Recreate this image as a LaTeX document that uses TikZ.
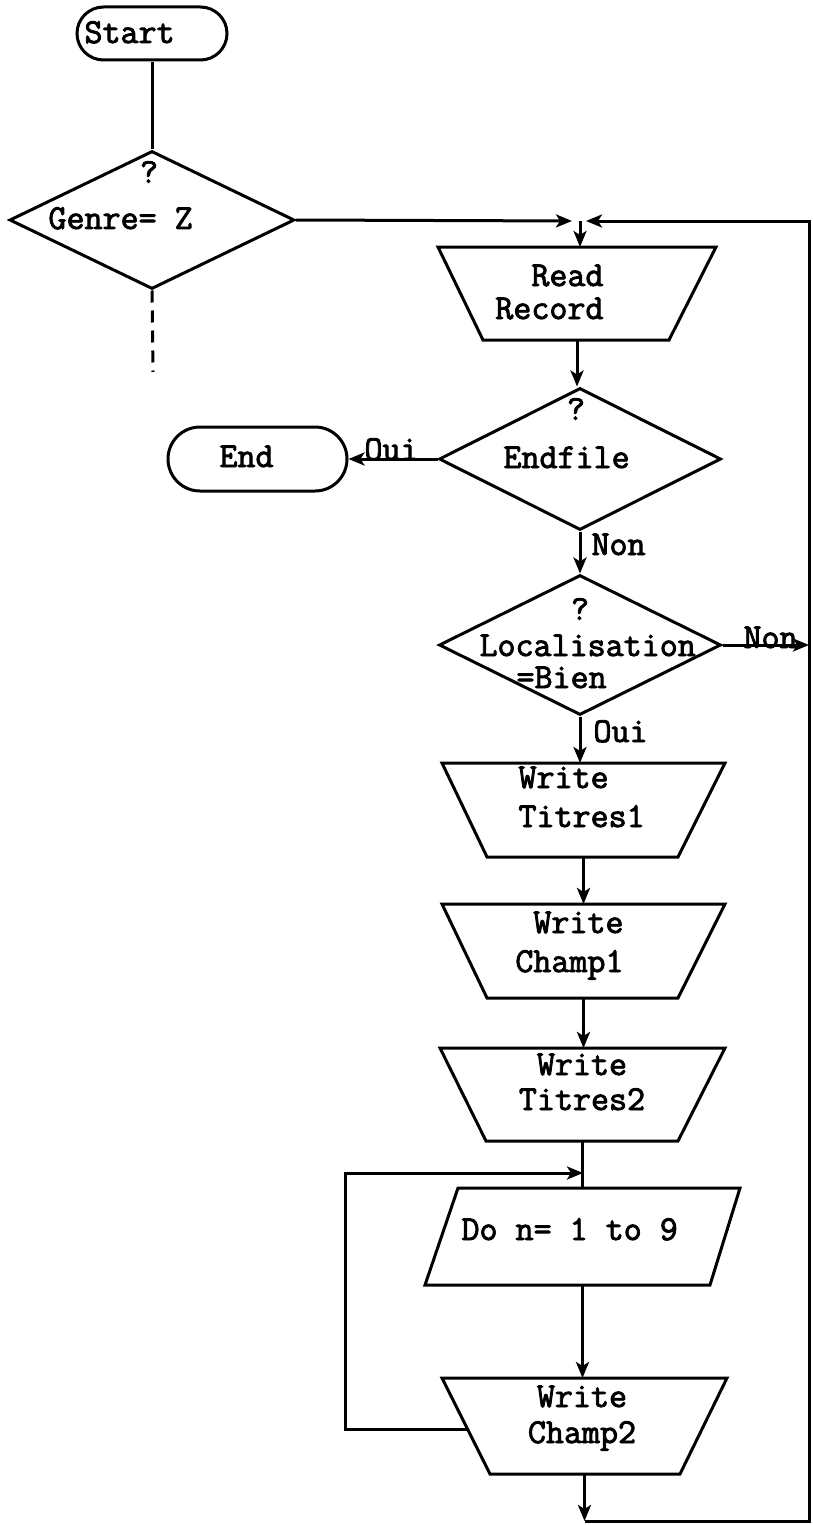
\documentclass[tikz,border=0pt]{standalone}
\usepackage{fontspec}
\newfontfamily\tw[FakeBold=2.5]{Latin Modern Mono}
\usetikzlibrary{shapes.geometric,shapes.misc,arrows.meta,calc}
\newcommand\invtrap[3]{%
  \draw (#1.north west) -- (#1.north east) -- ([xshift=-#3]#1.south east)
        -- ([xshift=#2]#1.south west) -- cycle;}
\begin{document}
\begin{tikzpicture}[x=1pt,y=-1pt,line width=3pt,
  txt/.style={font=\tw\fontsize{35pt}{38pt}\selectfont,inner sep=0pt},
  lbl/.style={txt,anchor=base west},
  lble/.style={txt,anchor=base east},
  lblc/.style={txt,anchor=base},
  arr/.style={-{Stealth[length=16pt,width=13pt,inset=4pt]}},
  term/.style={rounded rectangle,draw,inner sep=0pt},
  dia/.style={diamond,draw,inner sep=0pt},
  frame/.style={rectangle,inner sep=0pt,outer sep=0pt}]
\useasboundingbox (0,0) rectangle (812,1525);

% nodes
\node[term,minimum width=150pt,minimum height=53pt] (start) at (152,33.5) {};
\node[lbl] (tstart) at (83,43) {Start};

\node[dia,minimum width=285pt,minimum height=138pt] (genre) at (152,220) {};
\node[txt] (q1) at (149,172) {?};
\node[lbl] (tgenre) at (47,229) {Genre= Z};
\coordinate (gdash) at (153,372);

\coordinate (jtop) at (580,221);
\coordinate (jl1) at (572,221);
\coordinate (jr1) at (586,221);

\node[frame,minimum width=278pt,minimum height=93pt] (read) at (577,293.5) {};
\invtrap{read}{45pt}{47pt}
\node[lble] (tread1) at (605,286) {Read};
\node[lble] (tread2) at (605,319) {Record};

\node[dia,minimum width=282pt,minimum height=142pt] (endf) at (580,459) {};
\node[txt] (q2) at (576,409) {?};
\node[lbl] (tendf) at (502,468) {Endfile};

\node[term,minimum width=179pt,minimum height=64pt] (endn) at (257.5,459) {};
\node[lbl] (tend) at (218,467) {End};
\node[lbl] (oui1) at (363,460) {Oui};
\node[lbl] (non1) at (590,555) {Non};

\node[dia,minimum width=282pt,minimum height=140pt] (loc) at (580,645) {};
\node[txt] (q3) at (580,609) {?};
\node[lbl] (tloc1) at (478,656) {Localisation};
\node[lbl] (tloc2) at (515,688) {=Bien};
\node[lbl] (non2) at (742,648) {Non};
\node[lbl] (oui2) at (592,742) {Oui};
\coordinate (locr) at (809,645);

\node[frame,minimum width=283pt,minimum height=94pt] (t1) at (583.5,810) {};
\invtrap{t1}{45pt}{47pt}
\node[lbl] (tt1a) at (517,788) {Write};
\node[lbl] (tt1b) at (517,827) {Titres1};

\node[frame,minimum width=283pt,minimum height=94pt] (c1) at (583.5,951) {};
\invtrap{c1}{45pt}{47pt}
\node[lble] (tc1a) at (625,933) {Write};
\node[lble] (tc1b) at (625,972) {Champ1};

\node[frame,minimum width=285pt,minimum height=93pt] (t2) at (582.5,1094.5) {};
\invtrap{t2}{46pt}{47pt}
\node[lblc] (tt2a) at (582,1075) {Write};
\node[lblc] (tt2b) at (582,1110) {Titres2};

\coordinate (jloop) at (583,1173);
\node[frame,minimum width=315pt,minimum height=97pt] (do) at (582.5,1236.5) {};
\draw ([xshift=33pt]do.north west) -- (do.north east)
      -- ([xshift=-30pt]do.south east) -- (do.south west) -- cycle;
\node[lbl] (tdo) at (460,1240) {Do n= 1 to 9};

\node[frame,minimum width=285pt,minimum height=96pt] (c2) at (584.5,1426) {};
\invtrap{c2}{48pt}{47pt}
\coordinate (c2bl) at ($(c2.south west)+(48,0)$);
\coordinate (c2l) at ($(c2.north west)!0.54!(c2bl)$);
\node[lblc] (tc2a) at (582,1407) {Write};
\node[lblc] (tc2b) at (582,1443) {Champ2};

\coordinate (lpx) at (345,1300);
\coordinate (bot) at (584.5,1521);
\coordinate (br) at (809,1521);
\coordinate (tr) at (809,221);

% connectors
\draw (start) -- (genre);
\draw[dash pattern=on 12pt off 8pt] (genre.south) -- (gdash);
\draw[arr] (genre.east) -- (jl1);
\draw[arr] (jtop) -- (jtop |- read.north);
\draw[arr] (read.south) -- (read.south |- endf.north);
\draw[arr] (endf.west) -- (endn.east);
\draw[arr] (endf.south) -- (loc.north);
\draw[arr] (loc.east) -- (locr);
\draw[arr] (loc.south) -- (loc.south |- t1.north);
\draw[arr] (t1.south) -- (c1.north);
\draw[arr] (c1.south) -- (c1.south |- t2.north);
\draw (t2.south) -- (t2.south |- do.north);
\draw[arr] (c2l) -| (lpx) |- (jloop);
\draw[arr] (do.south) -- (do.south |- c2.north);
\draw[arr] (c2.south) -- (bot);
\draw[arr] (bot) -- (br) -- (tr) -- (jr1);
\end{tikzpicture}
\end{document}
